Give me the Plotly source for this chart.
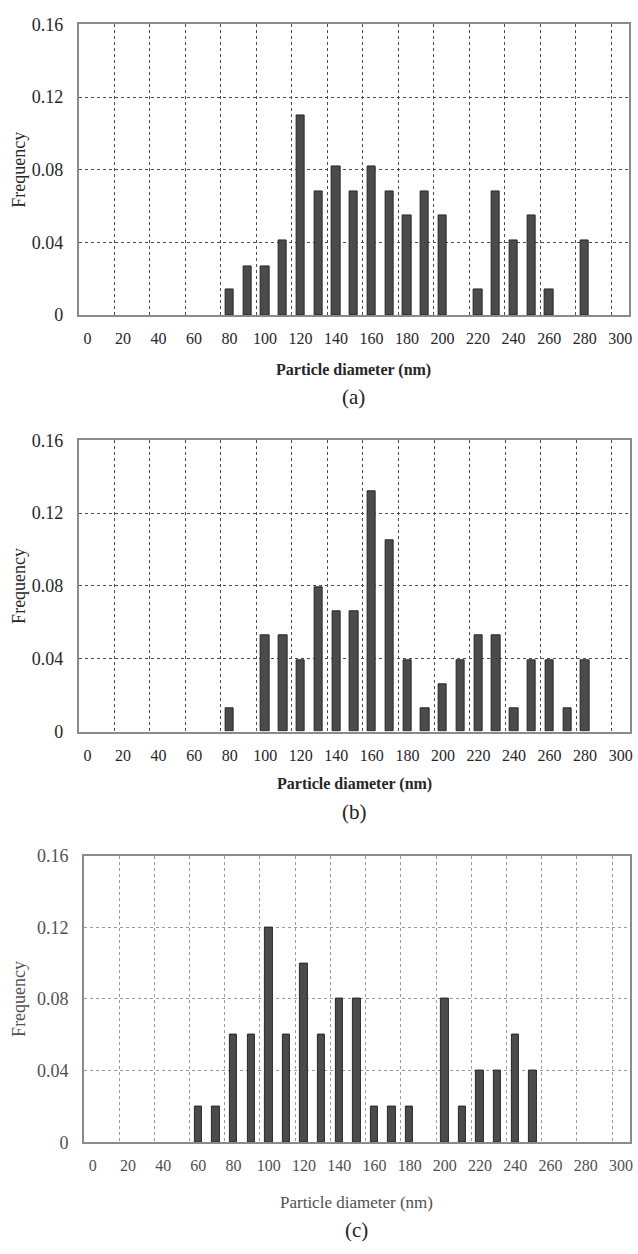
import plotly.graph_objects as go

# ---------------- data (empty bins omitted) ----------------
diam_a = [80, 90, 100, 110, 120, 130, 140, 150, 160, 170, 180, 190, 200, 220, 230, 240, 250, 260, 280]
freq_a = [0.014, 0.027, 0.027, 0.041, 0.110, 0.068, 0.082, 0.068, 0.082, 0.068, 0.055, 0.068, 0.055, 0.014, 0.068, 0.041, 0.055, 0.014, 0.041]

diam_b = [80, 100, 110, 120, 130, 140, 150, 160, 170, 180, 190, 200, 210, 220, 230, 240, 250, 260, 270, 280]
freq_b = [0.013, 0.053, 0.053, 0.039, 0.079, 0.066, 0.066, 0.132, 0.105, 0.039, 0.013, 0.026, 0.039, 0.053, 0.053, 0.013, 0.039, 0.039, 0.013, 0.039]

diam_c = [60, 70, 80, 90, 100, 110, 120, 130, 140, 150, 160, 170, 180, 200, 210, 220, 230, 240, 250]
freq_c = [0.02, 0.02, 0.06, 0.06, 0.12, 0.06, 0.10, 0.06, 0.08, 0.08, 0.02, 0.02, 0.02, 0.08, 0.02, 0.04, 0.04, 0.06, 0.04]

x_ticks = list(range(0, 301, 20))
y_ticks = [0, 0.04, 0.08, 0.12, 0.16]
y_tick_text = ["0", "0.04", "0.08", "0.12", "0.16"]
panel_labels = ["(a)", "(b)", "(c)"]
x_title = "Particle diameter (nm)"
y_title = "Frequency"

W, H = 638, 1254
FONT = "Liberation Serif"

# panel geometry in pixels: (left, right, top, bottom)
panels = [
    (79, 632, 14.7, 310.0),
    (79, 632.5, 437.3, 733.3),
    (84.3, 632.7, 859.3, 1150.7),
]
datasets = [(diam_a, freq_a), (diam_b, freq_b), (diam_c, freq_c)]
text_col = ["#262626", "#262626", "#505050"]
grid_col = ["#4d4d4d", "#4d4d4d", "#9a9a9a"]
bar_w = [4.7, 4.7, 4.2]
title_bold = [True, True, False]
xtitle_y = [366, 787, 1212]
plabel_y = [393, 815, 1240]

fig = go.Figure()

for i, ((l, r, t, b), (xs, ys)) in enumerate(zip(panels, datasets)):
    n = "" if i == 0 else str(i + 1)
    fig.add_trace(go.Bar(
        x=xs, y=ys, width=bar_w[i],
        marker=dict(color="#4b4b4b", line=dict(color="#262626", width=1)),
        xaxis="x" + n, yaxis="y" + n, showlegend=False,
    ))
    fig.update_layout(**{
        "xaxis" + n: dict(
            domain=[l / W, r / W], anchor="y" + n,
            range=[-5, 305], tickvals=x_ticks, ticktext=[str(v) for v in x_ticks],
            showgrid=False, zeroline=False,
            showline=True, mirror=True, linecolor="#8a8a8a", linewidth=1.5,
            ticks="outside", ticklen=8, tickcolor="rgba(0,0,0,0)",
            tickfont=dict(family=FONT, size=16, color=text_col[i]),
            minor=dict(tick0=15, dtick=20, showgrid=True, griddash="dot",
                       gridcolor=grid_col[i], gridwidth=1, ticks=""),
            fixedrange=True,
        ),
        "yaxis" + n: dict(
            domain=[1 - b / H, 1 - t / H], anchor="x" + n,
            range=[0, 0.16], tickvals=y_ticks, ticktext=y_tick_text,
            showgrid=True, griddash="dot", gridcolor=grid_col[i], gridwidth=1,
            zeroline=False,
            showline=True, mirror=True, linecolor="#8a8a8a", linewidth=1.5,
            ticks="outside", ticklen=10, tickcolor="rgba(0,0,0,0)",
            tickfont=dict(family=FONT, size=18, color=text_col[i]),
            fixedrange=True,
        ),
    })
    cx = (l + r) / 2
    ttl = "<b>" + x_title + "</b>" if title_bold[i] else x_title
    fig.add_annotation(x=cx / W, y=1 - xtitle_y[i] / H, xref="paper", yref="paper",
                       text=ttl, showarrow=False, xanchor="center", yanchor="middle",
                       font=dict(family=FONT, size=16 if title_bold[i] else 17, color=text_col[i]))
    fig.add_annotation(x=cx / W, y=1 - plabel_y[i] / H, xref="paper", yref="paper",
                       text=panel_labels[i], showarrow=False, xanchor="center", yanchor="middle",
                       font=dict(family=FONT, size=21, color="#222222"))
    fig.add_annotation(x=19 / W, y=1 - ((t + b) / 2) / H, xref="paper", yref="paper",
                       text=y_title, showarrow=False, textangle=-90,
                       xanchor="center", yanchor="middle",
                       font=dict(family=FONT, size=18, color=text_col[i]))

fig.update_layout(
    width=W, height=H,
    margin=dict(l=0, r=0, t=0, b=0),
    paper_bgcolor="white", plot_bgcolor="white",
    bargap=0,
)

fig.write_html("out.html", config={"displayModeBar": False})
